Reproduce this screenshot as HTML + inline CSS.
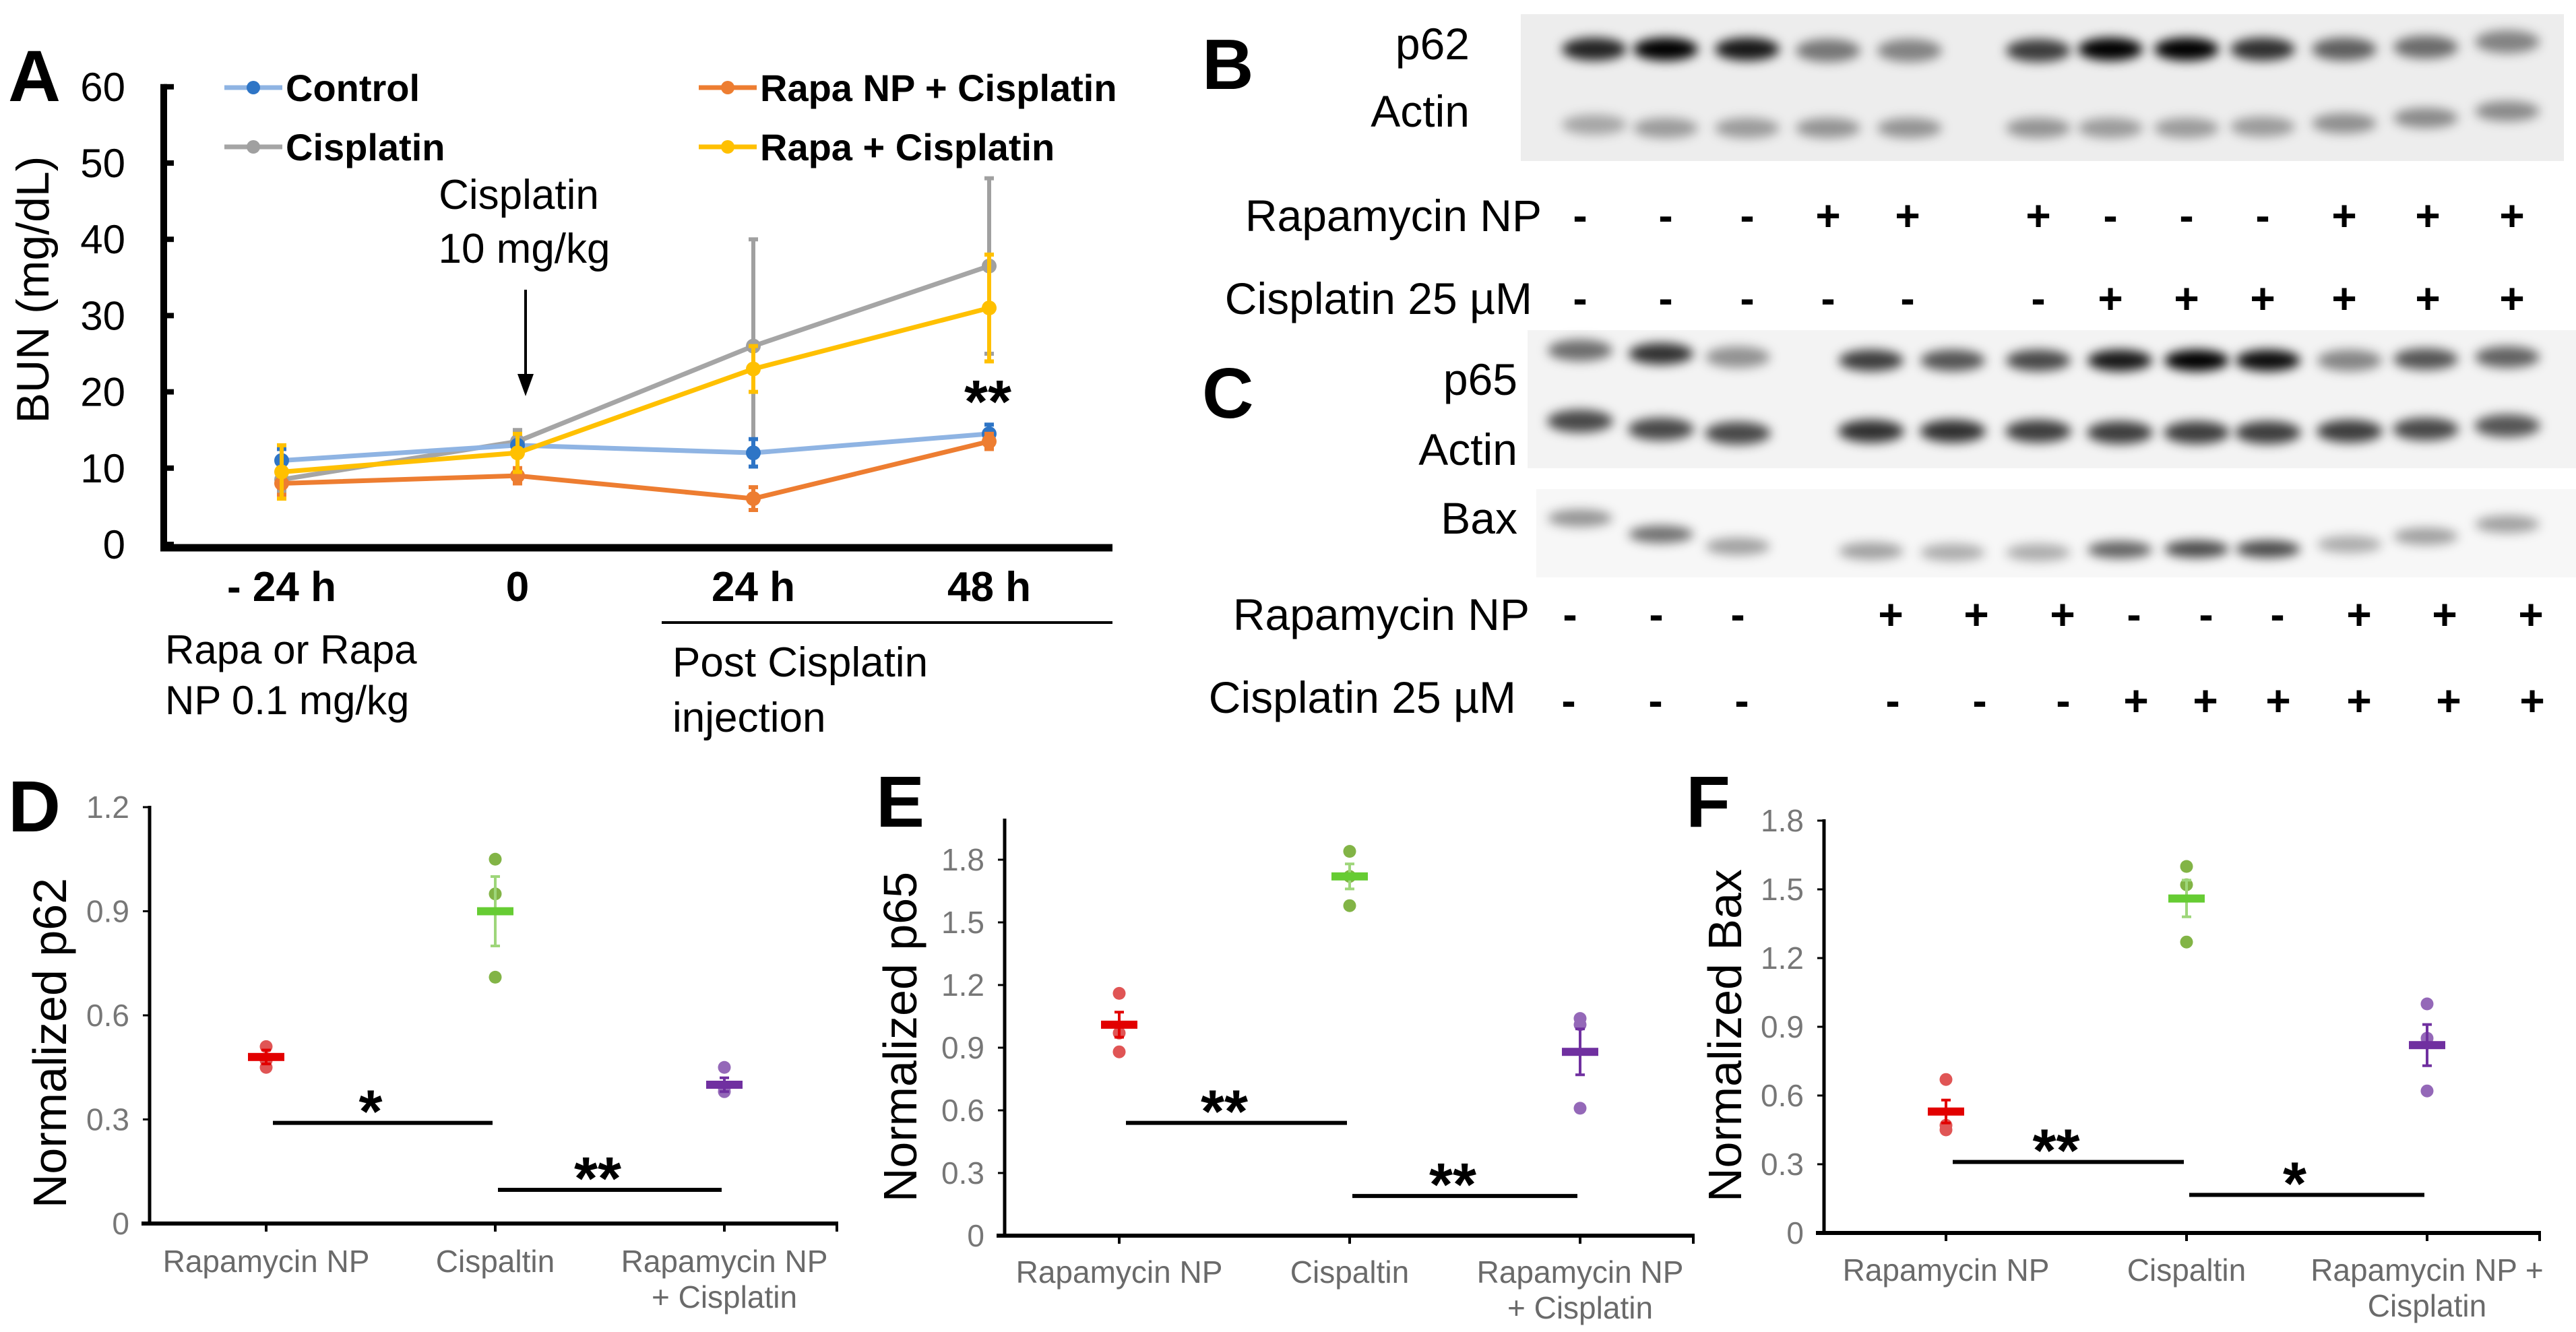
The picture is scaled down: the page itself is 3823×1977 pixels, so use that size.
<!DOCTYPE html>
<html><head><meta charset="utf-8"><title>BUN and western blot figure</title>
<style>
html,body{margin:0;padding:0;background:#fff;}
svg{display:block;font-family:"Liberation Sans",Arial,sans-serif;}
</style></head>
<body>
<svg id="fig" xmlns="http://www.w3.org/2000/svg" width="3823" height="1977" viewBox="0 0 3823 1977">
<defs>
<filter id="blur6" x="-50%" y="-100%" width="200%" height="300%"><feGaussianBlur stdDeviation="8"/></filter>
<filter id="blur4" x="-50%" y="-100%" width="200%" height="300%"><feGaussianBlur stdDeviation="5"/></filter>
</defs>
<rect x="0" y="0" width="3823" height="1977" fill="#fff"/>
</svg>
<script>
// ---------- Panel A data ----------
const aCats = ['- 24 h', '0', '24 h', '48 h'];
const aYTicks = [0, 10, 20, 30, 40, 50, 60];
const controlVals = [11, 13, 12, 14.5];
const controlErr = [1.5, 1.5, 1.8, 1.2];
const cisVals = [8.5, 13.5, 26, 36.5];
const cisErr = [1.5, 1.5, 14, 11.5];
const rapaNpVals = [8, 9, 6, 13.5];
const rapaNpErr = [1.5, 1, 1.5, 1];
const rapaVals = [9.5, 12, 23, 31];
const rapaErr = [3.5, 2.5, 3, 7];

// ---------- Blot data ----------
const bLaneCount = 12;
const p62Int = [0.85, 1.0, 0.9, 0.5, 0.45, 0.75, 1.0, 1.0, 0.8, 0.6, 0.55, 0.45];
const actinBInt = [0.3, 0.35, 0.35, 0.38, 0.38, 0.38, 0.35, 0.35, 0.35, 0.4, 0.42, 0.42];
const p65Int = [0.55, 0.8, 0.4, 0.75, 0.65, 0.7, 0.9, 1.0, 0.95, 0.45, 0.65, 0.6];
const actinCInt = [0.7, 0.7, 0.7, 0.8, 0.8, 0.75, 0.75, 0.75, 0.75, 0.75, 0.7, 0.65];
const baxInt = [0.4, 0.55, 0.35, 0.35, 0.3, 0.3, 0.6, 0.7, 0.7, 0.3, 0.35, 0.35];
const bRapaSigns = ['-', '-', '-', '+', '+', '+', '-', '-', '-', '+', '+', '+'];
const bCisSigns = ['-', '-', '-', '-', '-', '-', '+', '+', '+', '+', '+', '+'];
const cRapaSigns = ['-', '-', '-', '+', '+', '+', '-', '-', '-', '+', '+', '+'];
const cCisSigns = ['-', '-', '-', '-', '-', '-', '+', '+', '+', '+', '+', '+'];

// ---------- Scatter panels data ----------
const groupCats = ['Rapamycin NP', 'Cispaltin', 'Rapamycin NP|+ Cisplatin'];
const groupCatsF = ['Rapamycin NP', 'Cispaltin', 'Rapamycin NP +|Cisplatin'];
const dTicks = [0, 0.3, 0.6, 0.9, 1.2];
const efTicks = [0, 0.3, 0.6, 0.9, 1.2, 1.5, 1.8];
const p62Means = [0.48, 0.90, 0.40];
const p62Err = [0.02, 0.10, 0.02];
const p62Points = [[0.51, 0.47, 0.45], [1.05, 0.95, 0.71], [0.45, 0.39, 0.38]];
const p62SigVals = [0.29, 0.097];
const p62SigLabels = ['*', '**'];
const p65Means = [1.01, 1.72, 0.88];
const p65Err = [0.06, 0.06, 0.11];
const p65Points = [[1.16, 0.97, 0.88], [1.84, 1.72, 1.58], [1.04, 1.01, 0.61]];
const p65SigVals = [0.54, 0.19];
const p65SigLabels = ['**', '**'];
const baxMeans = [0.53, 1.46, 0.82];
const baxErr = [0.05, 0.08, 0.09];
const baxPoints = [[0.67, 0.47, 0.45], [1.60, 1.52, 1.27], [1.00, 0.85, 0.62]];
const baxSigVals = [0.31, 0.166];
const baxSigLabels = ['**', '*'];

const NS = 'http://www.w3.org/2000/svg';
const svg = document.getElementById('fig');
function mk(tag, attrs, parent) {
  const e = document.createElementNS(NS, tag);
  for (const k in attrs) e.setAttribute(k, attrs[k]);
  (parent || svg).appendChild(e);
  return e;
}
function tx(x, y, s, attrs, parent) {
  const e = mk('text', Object.assign({x: x, y: y}, attrs), parent);
  e.textContent = s;
  return e;
}

// ================= Panel A =================
const gA = mk('g', {});


const aX0 = 418, aStep = 350, aY0 = 808, aYScale = 11.32;
function xA(i) { return aX0 + i * aStep; }
function yA(v) { return aY0 - v * aYScale; }

let el;
el = tx(12, 150, 'A', {'font-size': 108, 'font-weight': 'bold'}, gA);



el = mk('line', {x1: 243, y1: yA(60) - 4, x2: 243, y2: 813, stroke: '#000', 'stroke-width': 10}, gA);


el = mk('line', {x1: 238, y1: 813, x2: 1651, y2: 813, stroke: '#000', 'stroke-width': 11}, gA);



aYTicks.forEach(function (t) {
  const tk = mk('line', {x1: 243, y1: yA(t), x2: 258, y2: yA(t), stroke: '#000', 'stroke-width': 8}, gA);
  
  
  const tl = tx(186, yA(t) + 21, String(t), {'font-size': 60, 'text-anchor': 'end'}, gA);
  
  
});
el = tx(0, 0, 'BUN (mg/dL)', {'font-size': 68, 'text-anchor': 'middle', transform: 'translate(72,430) rotate(-90)'}, gA);



aCats.forEach(function (c, i) {
  const t = tx(xA(i), 892, c, {'font-size': 62, 'font-weight': 'bold', 'text-anchor': 'middle'}, gA);
  
  
});
el = tx(245, 985, 'Rapa or Rapa', {'font-size': 60}, gA);


el = tx(245, 1060, 'NP 0.1 mg/kg', {'font-size': 60}, gA);


el = mk('line', {x1: 982, y1: 924, x2: 1651, y2: 924, stroke: '#000', 'stroke-width': 4}, gA);


el = tx(998, 1004, 'Post Cisplatin', {'font-size': 62}, gA);


el = tx(998, 1086, 'injection', {'font-size': 62}, gA);



el = tx(770, 310, 'Cisplatin', {'font-size': 62, 'text-anchor': 'middle'}, gA);


el = tx(778, 390, '10 mg/kg', {'font-size': 62, 'text-anchor': 'middle'}, gA);


el = mk('line', {x1: 780, y1: 430, x2: 780, y2: 560, stroke: '#000', 'stroke-width': 4}, gA);


el = mk('polygon', {points: '768,555 792,555 780,588', fill: '#000'}, gA);



const aSeries = [
  {name: 'cisplatin', vals: cisVals, err: cisErr, line: '#a5a5a5', mark: '#a0a0a0'},
  {name: 'control', vals: controlVals, err: controlErr, line: '#8fb4e3', mark: '#2e75c6'},
  {name: 'rapa-np-cisplatin', vals: rapaNpVals, err: rapaNpErr, line: '#ed7d31', mark: '#ed7d31'},
  {name: 'rapa-cisplatin', vals: rapaVals, err: rapaErr, line: '#ffc000', mark: '#ffc000'}
];
aSeries.forEach(function (s) {
  const g = mk('g', {}, gA);
  
  
  s.vals.forEach(function (v, i) {
    const e = s.err[i];
    const eb = mk('path', {d: 'M' + xA(i) + ',' + yA(v + e) + 'V' + yA(v - e) +
      'M' + (xA(i) - 7) + ',' + yA(v + e) + 'h14M' + (xA(i) - 7) + ',' + yA(v - e) + 'h14',
      stroke: s.mark, 'stroke-width': 6, fill: 'none'}, g);
    
    
  });
  const pts = s.vals.map(function (v, i) { return xA(i) + ',' + yA(v); }).join(' ');
  const pl = mk('polyline', {points: pts, fill: 'none', stroke: s.line, 'stroke-width': 7}, g);
  
  
  s.vals.forEach(function (v, i) {
    const c = mk('circle', {cx: xA(i), cy: yA(v), r: 11, fill: s.mark}, g);
    
    
  });
});
el = tx(1466, 627, '**', {'font-size': 90, 'font-weight': 'bold', 'text-anchor': 'middle'}, gA);



// legend
const legendItems = [
  {label: 'Control', x: 333, y: 130, line: '#8fb4e3', mark: '#2e75c6'},
  {label: 'Cisplatin', x: 333, y: 218, line: '#a5a5a5', mark: '#a0a0a0'},
  {label: 'Rapa NP + Cisplatin', x: 1037, y: 130, line: '#ed7d31', mark: '#ed7d31'},
  {label: 'Rapa + Cisplatin', x: 1037, y: 218, line: '#ffc000', mark: '#ffc000'}
];
legendItems.forEach(function (L) {
  const g = mk('g', {}, gA);
  
  
  mk('line', {x1: L.x, y1: L.y, x2: L.x + 86, y2: L.y, stroke: L.line, 'stroke-width': 7}, g);
  mk('circle', {cx: L.x + 43, cy: L.y, r: 10, fill: L.mark}, g);
  tx(L.x + 91, L.y + 20, L.label, {'font-size': 56, 'font-weight': 'bold'}, g);
});

// ================= Panels B & C (blots) =================
const gB = mk('g', {});


el = tx(1784, 132, 'B', {'font-size': 106, 'font-weight': 'bold'}, gB);


el = tx(1784, 620, 'C', {'font-size': 106, 'font-weight': 'bold'}, gB);



function blotRect(x, y, w, h, fill, name) {
  const r = mk('rect', {x: x, y: y, width: w, height: h, fill: fill}, gB);
  
  
}
blotRect(2257, 21, 1548, 218, '#ededed', 'blot-b-membrane');
blotRect(2267, 490, 1556, 205, '#f3f3f3', 'blot-c-membrane');
blotRect(2280, 726, 1543, 131, '#f7f7f7', 'blot-bax-membrane');

const bLaneX = [2366, 2472, 2593, 2713, 2834, 3025, 3132, 3245, 3358, 3479, 3600, 3721];
const cLaneX = [2345, 2465, 2579, 2777, 2898, 3025, 3146, 3260, 3366, 3487, 3600, 3721];
const bP62Y = [73, 73, 73, 75, 75, 75, 73, 73, 73, 73, 70, 62];
const bActY = [185, 190, 190, 190, 190, 190, 190, 190, 188, 183, 175, 165];
const cP65Y = [520, 525, 530, 535, 535, 535, 535, 535, 535, 535, 533, 530];
const cActY = [625, 637, 643, 640, 640, 640, 642, 642, 642, 640, 637, 632];
const cBaxY = [769, 793, 811, 818, 820, 820, 816, 815, 815, 808, 796, 778];
function bands(xs, ys, ints, w, h, name, filt) {
  ints.forEach(function (v, i) {
    const e = mk('ellipse', {cx: xs[i], cy: ys[i], rx: w / 2, ry: h / 2, fill: '#000', 'fill-opacity': v, filter: 'url(#' + filt + ')'}, gB);
    
    
  });
}
bands(bLaneX, bP62Y, p62Int, 96, 34, 'band-p62', 'blur6');
bands(bLaneX, bActY, actinBInt, 96, 30, 'band-actin-b', 'blur6');
bands(cLaneX, cP65Y, p65Int, 96, 32, 'band-p65', 'blur6');
bands(cLaneX, cActY, actinCInt, 98, 34, 'band-actin-c', 'blur6');
bands(cLaneX, cBaxY, baxInt, 96, 26, 'band-bax', 'blur6');

function rowLabel(x, y, s, name) {
  const t = tx(x, y, s, {'font-size': 66, 'text-anchor': 'end'}, gB);
  
  
}
rowLabel(2181, 88, 'p62', 'label-p62');
rowLabel(2181, 188, 'Actin', 'label-actin-b');
rowLabel(2252, 586, 'p65', 'label-p65');
rowLabel(2252, 690, 'Actin', 'label-actin-c');
rowLabel(2252, 792, 'Bax', 'label-bax');
rowLabel(2288, 343, 'Rapamycin NP', 'label-rapamycin-b');
rowLabel(2274, 466, 'Cisplatin 25 µM', 'label-cisplatin-b');
rowLabel(2270, 935, 'Rapamycin NP', 'label-rapamycin-c');
rowLabel(2250, 1058, 'Cisplatin 25 µM', 'label-cisplatin-c');

const bSignX = [2345, 2472, 2593, 2713, 2831, 3025, 3132, 3245, 3358, 3479, 3603, 3728];
const cRapaX = [2330, 2458, 2579, 2806, 2933, 3061, 3167, 3274, 3380, 3501, 3628, 3756];
const cCisX = [2328, 2457, 2585, 2809, 2938, 3062, 3170, 3273, 3381, 3501, 3634, 3758];
function signs(xs, arr, y, name) {
  arr.forEach(function (s, i) {
    const t = tx(xs[i], y, s, {'font-size': 64, 'font-weight': 'bold', 'text-anchor': 'middle'}, gB);
    
    
  });
}
signs(bSignX, bRapaSigns, 342, 'sign-rapamycin-b');
signs(bSignX, bCisSigns, 465, 'sign-cisplatin-b');
signs(cRapaX, cRapaSigns, 934, 'sign-rapamycin-c');
signs(cCisX, cCisSigns, 1062, 'sign-cisplatin-c');

// ================= Panels D, E, F =================
function scatterPanel(cfg) {
  const g = mk('g', {});
  
  
  const yMax = cfg.ticks[cfg.ticks.length - 1];
  function yS(v) { return cfg.y0 - (v / yMax) * (cfg.y0 - cfg.yTop); }
  function xS(i) { return cfg.cx0 + i * cfg.cstep; }
  let e;
  e = tx(cfg.letterX, cfg.letterY, cfg.letter, {'font-size': 108, 'font-weight': 'bold'}, g);
  
  
  e = mk('line', {x1: cfg.ax, y1: cfg.axisTop, x2: cfg.ax, y2: cfg.y0 + 2, stroke: '#000', 'stroke-width': 5}, g);
  
  
  e = mk('line', {x1: cfg.ax - 12, y1: cfg.y0, x2: cfg.axEnd, y2: cfg.y0, stroke: '#000', 'stroke-width': 6}, g);
  
  
  e = mk('line', {x1: cfg.axEnd - 2, y1: cfg.y0, x2: cfg.axEnd - 2, y2: cfg.y0 + 12, stroke: '#000', 'stroke-width': 4}, g);
  cfg.ticks.forEach(function (t) {
    const tk = mk('line', {x1: cfg.ax - 10, y1: yS(t), x2: cfg.ax, y2: yS(t), stroke: '#000', 'stroke-width': 3}, g);
    
    
    const tl = tx(cfg.ax - 30, yS(t) + 16, String(t), {'font-size': 46, 'fill': '#777', 'text-anchor': 'end'}, g);
    
    
  });
  e = tx(0, 0, cfg.title, {'font-size': 70, 'text-anchor': 'middle', transform: 'translate(' + cfg.titleX + ',' + cfg.titleY + ') rotate(-90)'}, g);
  
  
  cfg.cats.forEach(function (c, i) {
    const tk = mk('line', {x1: xS(i), y1: cfg.y0, x2: xS(i), y2: cfg.y0 + 12, stroke: '#000', 'stroke-width': 4}, g);
    
    
    c.split('|').forEach(function (line, j) {
      const tl = tx(xS(i), cfg.labY + j * 53, line, {'font-size': 46, 'fill': '#6a6a6a', 'text-anchor': 'middle'}, g);
      
      
    });
  });
  const meanCol = ['#e20000', '#66cc33', '#7030a0'];
  const dotCol = ['#e05555', '#82b446', '#9468b8'];
  cfg.points.forEach(function (pts, i) {
    pts.forEach(function (v) {
      const d = mk('circle', {cx: xS(i), cy: yS(v), r: 9.5, fill: dotCol[i]}, g);
      
      
    });
  });
  cfg.means.forEach(function (m, i) {
    const er = cfg.err[i];
    const eb = mk('path', {d: 'M' + xS(i) + ',' + yS(m + er) + 'V' + yS(m - er) +
      'M' + (xS(i) - 7) + ',' + yS(m + er) + 'h14M' + (xS(i) - 7) + ',' + yS(m - er) + 'h14',
      stroke: i === 1 ? '#9ed67a' : meanCol[i], 'stroke-width': 4, fill: 'none'}, g);
    
    
    const mb = mk('rect', {x: xS(i) - 27, y: yS(m) - 6, width: 54, height: 12, fill: meanCol[i]}, g);
    
    
  });
  cfg.sig.forEach(function (v, k) {
    const xa = xS(k) + (k === 0 ? 10 : 4), xb = xS(k + 1) - 4;
    const sl = mk('line', {x1: xa, y1: yS(v), x2: xb, y2: yS(v), stroke: '#000', 'stroke-width': 6}, g);
    
    
    const st = tx((xa + xb) / 2 - 18, yS(v) + 14, cfg.sigLabels[k], {'font-size': 90, 'font-weight': 'bold', 'text-anchor': 'middle'}, g);
    
    
  });
}

scatterPanel({name: 'panel-d-p62', letter: 'D', letterX: 12, letterY: 1234, ax: 222, axisTop: 1196, axEnd: 1244,
  y0: 1816, yTop: 1198, cx0: 395, cstep: 340, ticks: dTicks, title: 'Normalized p62', titleX: 98, titleY: 1548,
  cats: groupCats, labY: 1888, points: p62Points, means: p62Means, err: p62Err, sig: p62SigVals, sigLabels: p62SigLabels});
scatterPanel({name: 'panel-e-p65', letter: 'E', letterX: 1300, letterY: 1227, ax: 1491, axisTop: 1215, axEnd: 2515,
  y0: 1834, yTop: 1276, cx0: 1661, cstep: 342, ticks: efTicks, title: 'Normalized p65', titleX: 1360, titleY: 1539,
  cats: groupCats, labY: 1904, points: p65Points, means: p65Means, err: p65Err, sig: p65SigVals, sigLabels: p65SigLabels});
scatterPanel({name: 'panel-f-bax', letter: 'F', letterX: 2502, letterY: 1227, ax: 2707, axisTop: 1216, axEnd: 3771,
  y0: 1830, yTop: 1218, cx0: 2888, cstep: 357, ticks: efTicks, title: 'Normalized Bax', titleX: 2584, titleY: 1537,
  cats: groupCatsF, labY: 1901, points: baxPoints, means: baxMeans, err: baxErr, sig: baxSigVals, sigLabels: baxSigLabels});
</script>
</body></html>
